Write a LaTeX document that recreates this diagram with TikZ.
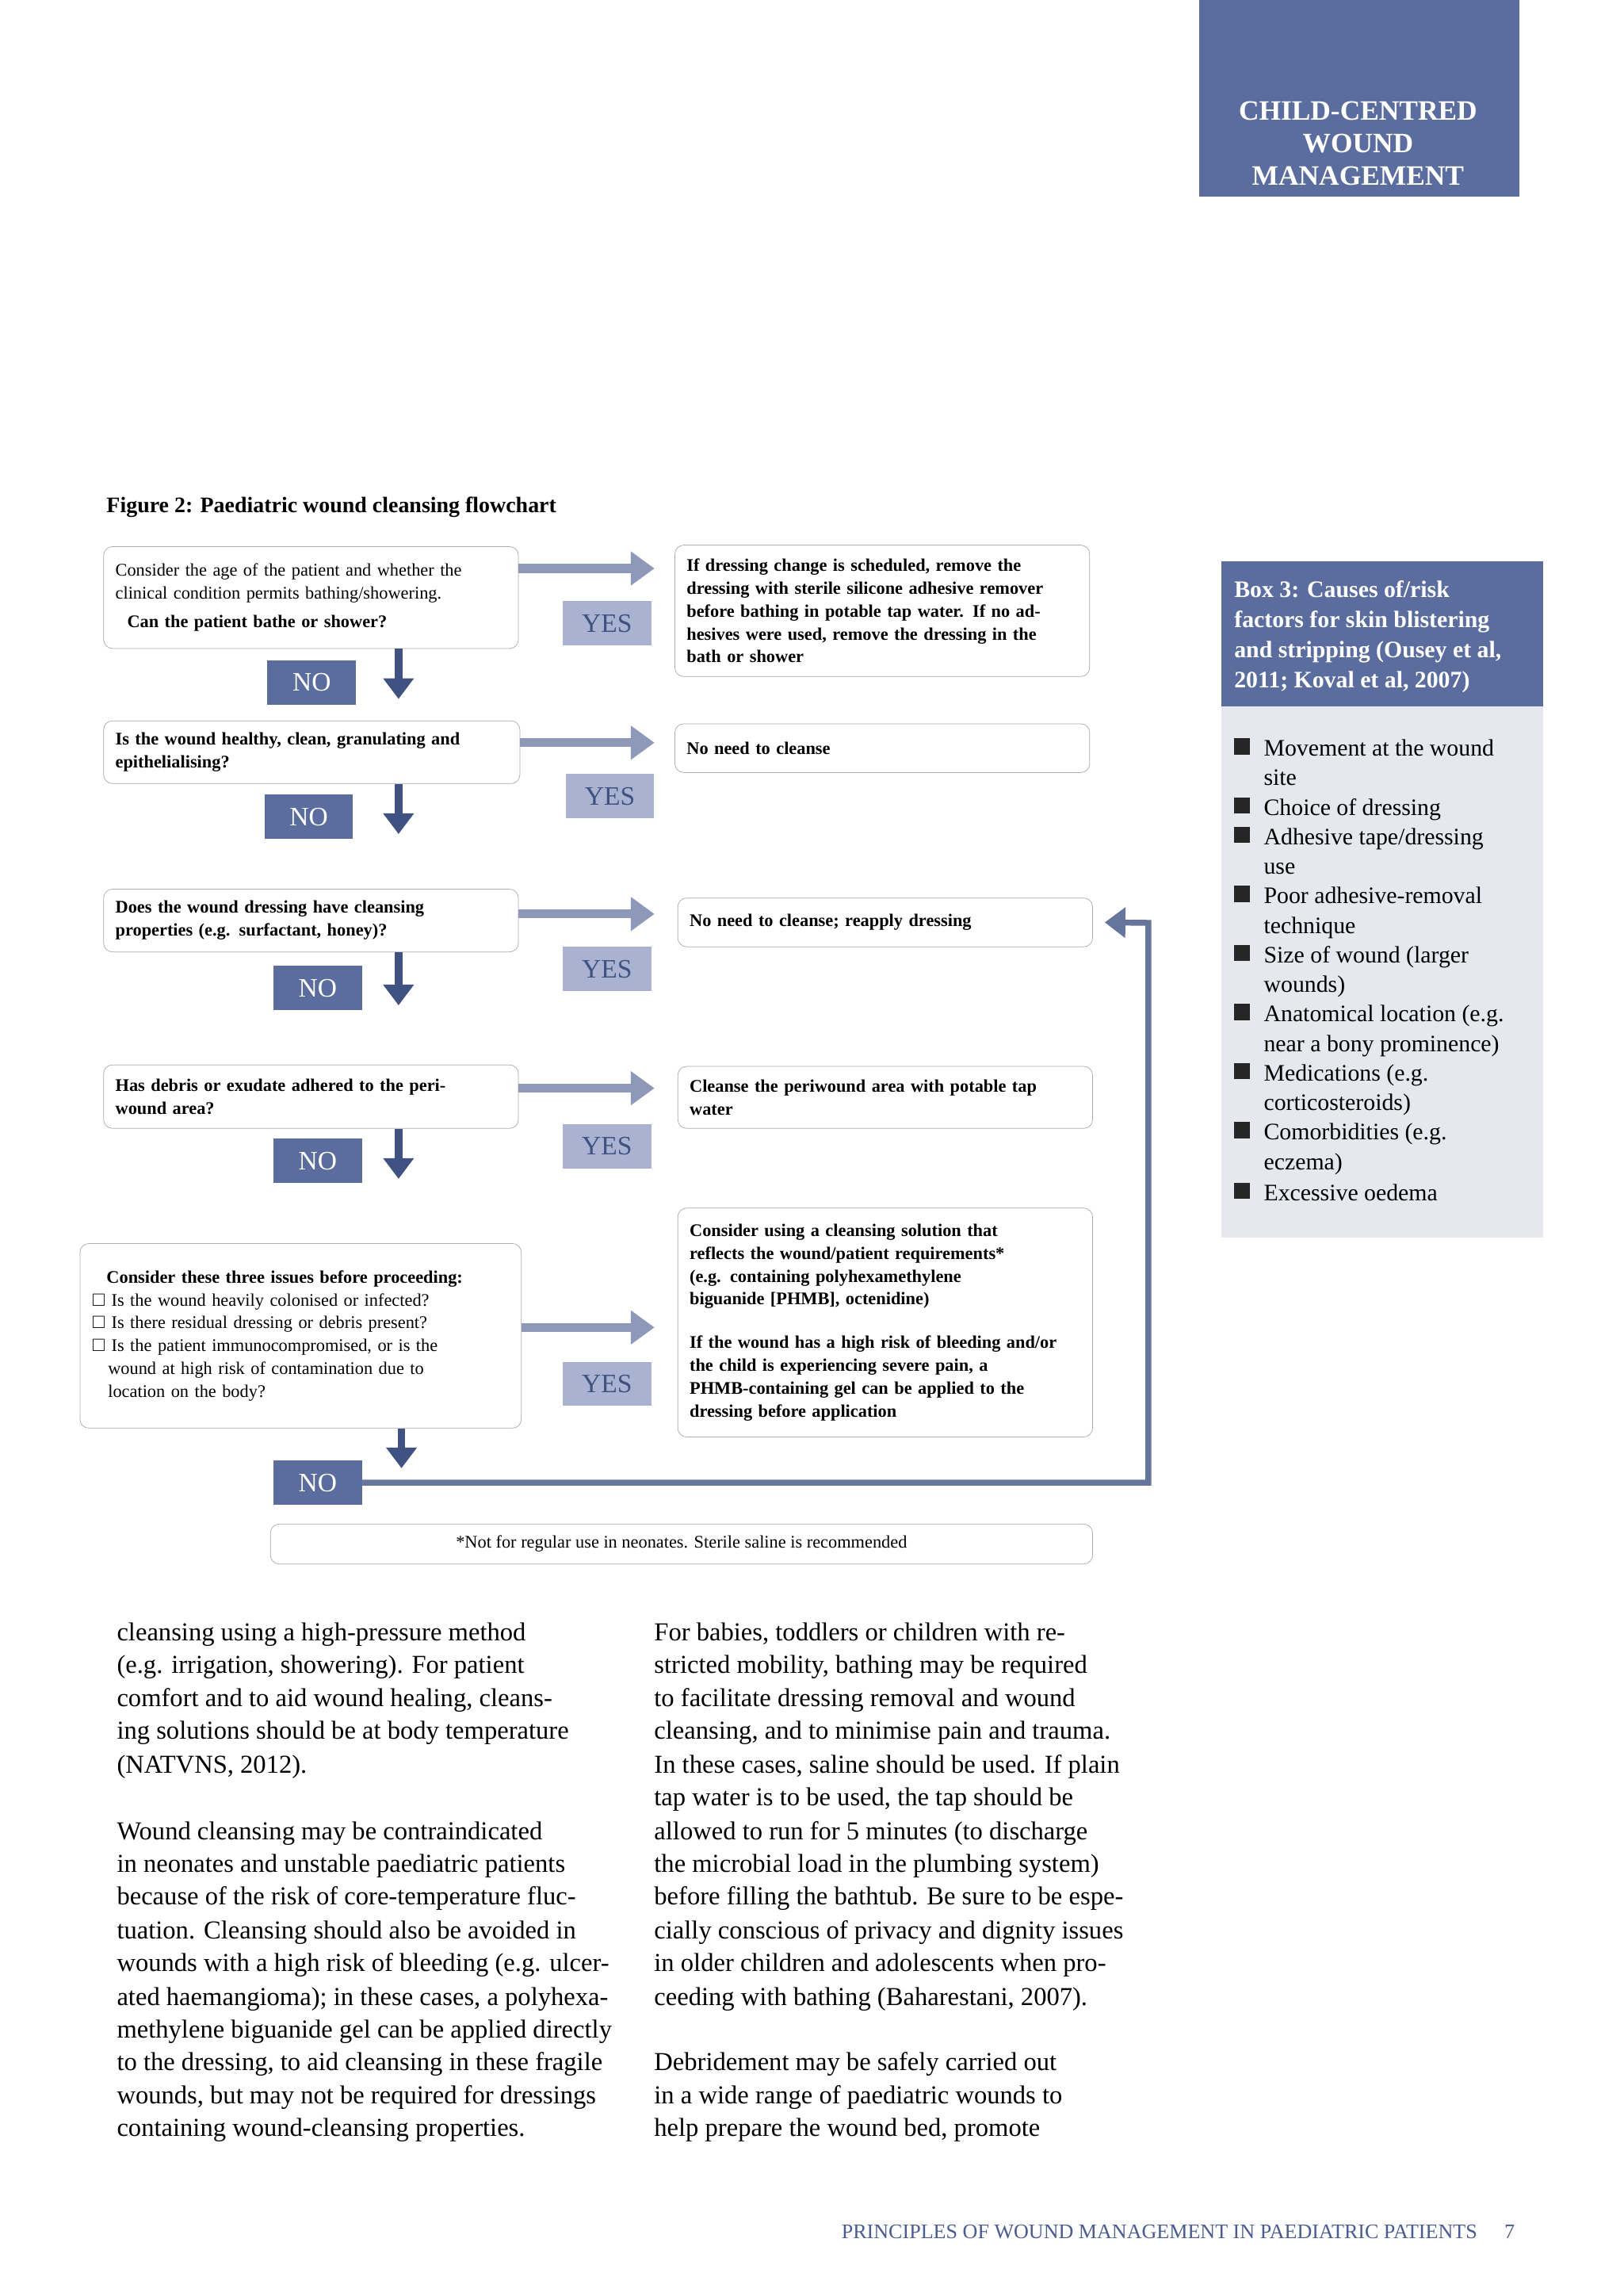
\documentclass[tikz,border=0pt]{standalone}
\usepackage{fontspec}
\usepackage{amssymb}
\setmainfont{Liberation Serif}
\usetikzlibrary{arrows.meta,calc}
\definecolor{hdr}{HTML}{5B6D9E}
\definecolor{dark}{HTML}{3F5282}
\definecolor{agray}{HTML}{8E98B8}
\definecolor{yesf}{HTML}{A9B2D1}
\definecolor{boxbg}{HTML}{E6E8F0}
\definecolor{foot}{HTML}{4A5C92}
\tikzset{
 fbox/.style={draw=gray!65, rounded corners=6pt, fill=white, anchor=north west, align=left, inner sep=8pt, font=\fontsize{12}{15.5}\selectfont\bfseries},
 yesbox/.style={fill=yesf, anchor=north west, minimum width=60pt, minimum height=30pt, inner sep=0pt, text=dark, font=\fontsize{18}{20}\selectfont},
 nobox/.style={fill=hdr, anchor=north west, minimum width=60pt, minimum height=30pt, inner sep=0pt, text=white, font=\fontsize{18}{20}\selectfont},
 rarr/.style={line width=6pt, agray, -{Triangle[length=16pt,width=22pt]}},
 darr/.style={line width=5pt, dark, -{Triangle[length=14pt,width=20pt]}},
 bodyl/.style={anchor=base west, inner sep=0pt, font=\fontsize{17.5}{20}\selectfont},
 li/.style={anchor=base west, inner sep=0pt, font=\fontsize{16}{18}\selectfont},
}
\begin{document}
\begin{tikzpicture}[x=1pt,y=-1pt]
\useasboundingbox[fill=white] (0,0) rectangle (1100,1555);
% header
\node[fill=hdr, anchor=north west, minimum width=217pt, minimum height=133pt, inner sep=0pt] (hdr) at (812,0) {};
\node[text=white, align=center, font=\fontsize{19}{22}\selectfont\bfseries] (hdrt) at (920,97) {CHILD-CENTRED\\WOUND\\MANAGEMENT};
\node[anchor=base west, inner sep=0pt, font=\fontsize{15}{18}\selectfont\bfseries] (fig) at (72,347) {Figure 2: Paediatric wound cleansing flowchart};
% left boxes
\node[fbox, text width=265pt, minimum height=69pt] (l1) at (70,370) {\mdseries Consider the age of the patient and whether the\\\mdseries clinical condition permits bathing/showering.\\[4pt]\bfseries\hspace*{8pt}Can the patient bathe or shower?};
\node[fbox, text width=266pt, minimum height=41pt] (l2) at (70,488) {Is the wound healthy, clean, granulating and\\epithelialising?};
\node[fbox, text width=265pt, minimum height=42pt] (l3) at (70,602) {Does the wound dressing have cleansing\\properties (e.g. surfactant, honey)?};
\node[fbox, text width=265pt, minimum height=43pt] (l4) at (70,721) {Has debris or exudate adhered to the peri-\\wound area?};
\node[fbox, text width=283pt, minimum height=125pt] (l5) at (54,842) {\hspace*{10pt}Consider these three issues before proceeding:\\
\mdseries$\square$ Is the wound heavily colonised or infected?\\
\mdseries$\square$ Is there residual dressing or debris present?\\
\mdseries$\square$ Is the patient immunocompromised, or is the\\
\mdseries\hspace*{11pt}wound at high risk of contamination due to\\
\mdseries\hspace*{11pt}location on the body?};
% right boxes
\node[fbox, text width=265pt, minimum height=89pt] (r1) at (457,369) {If dressing change is scheduled, remove the\\dressing with sterile silicone adhesive remover\\before bathing in potable tap water. If no ad-\\hesives were used, remove the dressing in the\\bath or shower};
\node[fbox, text width=265pt, minimum height=33pt] (r2) at (457,490) {No need to cleanse};
\node[fbox, text width=265pt, minimum height=33pt] (r3) at (459,608) {No need to cleanse; reapply dressing};
\node[fbox, text width=265pt, minimum height=42pt] (r4) at (459,722) {Cleanse the periwound area with potable tap\\water};
\node[fbox, text width=265pt, minimum height=155pt] (r5) at (459,818) {Consider using a cleansing solution that\\reflects the wound/patient requirements*\\(e.g. containing polyhexamethylene\\biguanide [PHMB], octenidine)\\[14pt]If the wound has a high risk of bleeding and/or\\the child is experiencing severe pain, a\\PHMB-containing gel can be applied to the\\dressing before application};
\node[draw=gray!65, rounded corners=6pt, anchor=north west, minimum width=557pt, minimum height=27pt, inner sep=0pt, font=\fontsize{12}{14}\selectfont] (fn) at (183,1032) {*Not for regular use in neonates. Sterile saline is recommended};
% yes / no
\node[yesbox] (y1) at (381,407) {YES};
\node[yesbox] (y2) at (383,524) {YES};
\node[yesbox] (y3) at (381,641) {YES};
\node[yesbox] (y4) at (381,761) {YES};
\node[yesbox] (y5) at (381,922) {YES};
\node[nobox] (n1) at (181,447) {NO};
\node[nobox] (n2) at (179,538) {NO};
\node[nobox] (n3) at (185,654) {NO};
\node[nobox] (n4) at (185,771) {NO};
\node[nobox] (n5) at (185,989) {NO};
% arrows right
\draw[rarr] ([yshift=-15pt]l1.north east) -- ++(92,0);
\draw[rarr] ([yshift=-15pt]l2.north east) -- ++(91,0);
\draw[rarr] ([yshift=-17pt]l3.north east) -- ++(92,0);
\draw[rarr] ([yshift=-16pt]l4.north east) -- ++(92,0);
\draw[rarr] ([yshift=-57pt]l5.north east) -- ++(90,0);
% arrows down
\draw[darr] (l1.south -| 270,0) -- ++(0,34);
\draw[darr] (l2.south -| 270,0) -- ++(0,34);
\draw[darr] (l3.south -| 270,0) -- ++(0,36);
\draw[darr] (l4.south -| 270,0) -- ++(0,34);
\draw[darr] (l5.south -| 272,0) -- ++(0,27);
% feedback
\coordinate (fb) at (778,625);
\draw[line width=4pt, dark!80, line join=miter, -{Triangle[length=14pt,width=20pt]}] (n5.east) -| (fb) -- ([xshift=8pt]r3.east);
% Box 3
\node[fill=boxbg, anchor=north west, minimum width=218pt, minimum height=458pt, inner sep=0pt] (bx) at (827,380) {};
\node[fill=hdr, anchor=north west, minimum width=218pt, minimum height=98pt, inner sep=0pt] (bxh) at (827,380) {};
\node[anchor=north west, text=white, align=left, inner sep=0pt, font=\fontsize{16}{20.5}\selectfont\bfseries] (bxt) at (836,393) {Box 3: Causes of/risk\\factors for skin blistering\\and stripping (Ousey et al,\\2011; Koval et al, 2007)};
\foreach \yy/\t in {512/Movement at the wound,532/site,552/Choice of dressing,572/{Adhesive tape/dressing},592/use,612/Poor adhesive-removal,632/technique,652/Size of wound (larger,672/wounds),692/Anatomical location (e.g.,712/near a bony prominence),732/Medications (e.g.,752/corticosteroids),772/Comorbidities (e.g.,792/eczema),813/Excessive oedema}{
 \node[li] at (856,\yy) {\t};}
\foreach \yy in {512,552,572,612,652,692,732,772,813}{
 \fill[black!85] (836,\yy-12) rectangle ++(11,11);}
% body text
\foreach \yy/\t in {1111/cleansing using a high-pressure method,1133/(e.g. irrigation{,} showering). For patient,1156/comfort and to aid wound healing{,} cleans-,1178/ing solutions should be at body temperature,1201/(NATVNS{,} 2012).,1246/Wound cleansing may be contraindicated,1268/in neonates and unstable paediatric patients,1290/because of the risk of core-temperature fluc-,1313/tuation. Cleansing should also be avoided in,1335/wounds with a high risk of bleeding (e.g. ulcer-,1358/ated haemangioma); in these cases{,} a polyhexa-,1380/methylene biguanide gel can be applied directly,1402/to the dressing{,} to aid cleansing in these fragile,1425/wounds{,} but may not be required for dressings,1447/containing wound-cleansing properties.}{
 \node[bodyl] at (79,\yy) {\t};}
\foreach \yy/\t in {1111/For babies{,} toddlers or children with re-,1133/stricted mobility{,} bathing may be required,1156/to facilitate dressing removal and wound,1178/cleansing{,} and to minimise pain and trauma.,1201/In these cases{,} saline should be used. If plain,1223/tap water is to be used{,} the tap should be,1246/allowed to run for 5 minutes (to discharge,1268/the microbial load in the plumbing system),1290/before filling the bathtub. Be sure to be espe-,1313/cially conscious of privacy and dignity issues,1335/in older children and adolescents when pro-,1358/ceeding with bathing (Baharestani{,} 2007).,1402/Debridement may be safely carried out,1425/in a wide range of paediatric wounds to,1447/help prepare the wound bed{,} promote}{
 \node[bodyl] at (443,\yy) {\t};}
% footer
\node[anchor=base east, inner sep=0pt, text=foot, font=\fontsize{14}{16}\selectfont] (ft) at (1001,1516) {PRINCIPLES OF WOUND MANAGEMENT IN PAEDIATRIC PATIENTS};
\node[anchor=base west, inner sep=0pt, text=foot, font=\fontsize{14}{16}\selectfont] (pg) at (1019,1516) {7};
\end{tikzpicture}
\end{document}
